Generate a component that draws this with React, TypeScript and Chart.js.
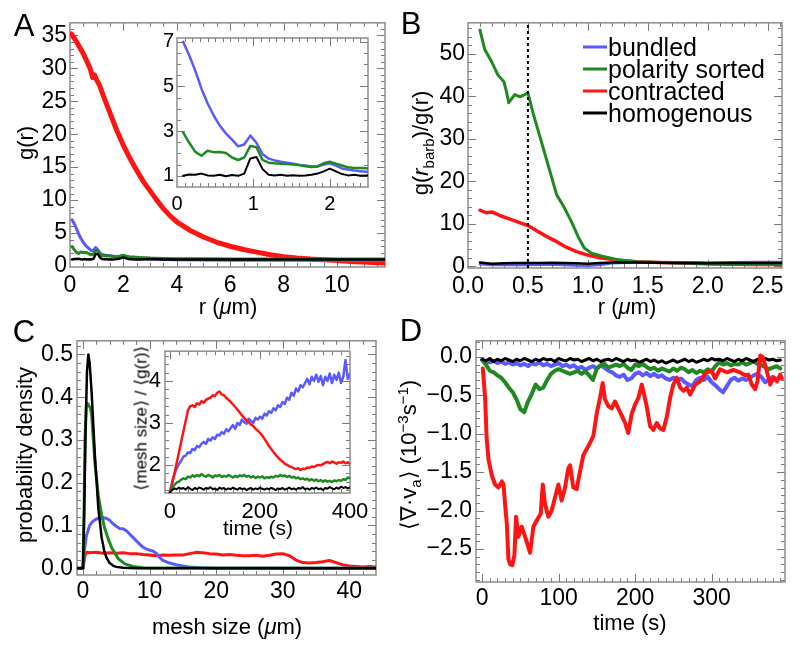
import React, { useEffect, useRef } from "react";
import { Chart, registerables } from "chart.js";
Chart.register(...registerables);

const FONT = "'Liberation Sans', Arial, Helvetica, sans-serif";
const BLUE = "#5a5aff";
const GREEN = "#1f8a1f";
const RED = "#ff1414";
const BLACK = "#000000";

// ---------- Panel A: g(r) ----------
const rA = [0.08, 0.16, 0.24, 0.32, 0.40, 0.48, 0.56, 0.64, 0.72, 0.80, 0.88, 0.96, 1.04, 1.12, 1.20, 1.28, 1.36, 1.44, 1.52, 1.60, 1.68, 1.76, 1.84, 1.92, 2.00, 2.08, 2.16, 2.24, 2.32, 2.40, 2.48, 2.6, 3, 3.5, 4, 5, 6, 7, 8, 9, 10, 11, 11.8];
const gBundled = [7.0, 6.4, 5.7, 4.9, 4.25, 3.7, 3.25, 2.9, 2.62, 2.32, 2.4, 2.8, 2.48, 1.97, 1.77, 1.69, 1.63, 1.59, 1.54, 1.49, 1.46, 1.42, 1.43, 1.51, 1.56, 1.46, 1.33, 1.28, 1.24, 1.21, 1.18, 1.12, 1.05, 1.0, 0.95, 0.9, 0.88, 0.87, 0.86, 0.86, 0.85, 0.85, 0.85];
const gPolarity = [2.95, 2.48, 2.07, 1.9, 2.12, 2.06, 2.07, 2.02, 1.82, 1.71, 1.82, 2.34, 2.28, 1.71, 1.59, 1.56, 1.54, 1.53, 1.51, 1.48, 1.43, 1.4, 1.42, 1.56, 1.63, 1.54, 1.46, 1.38, 1.35, 1.35, 1.34, 1.3, 1.2, 1.15, 1.12, 1.1, 1.08, 1.07, 1.06, 1.05, 1.05, 1.05, 1.05];
const gHomog = [1.0, 1.06, 1.05, 1.1, 1.02, 1.0, 1.05, 0.98, 1.04, 1.0, 1.1, 1.78, 1.84, 1.3, 1.05, 1.02, 1.05, 1.0, 1.03, 1.0, 1.02, 1.05, 1.1, 1.2, 1.32, 1.2, 1.08, 1.02, 1.05, 1.0, 1.02, 1.0, 1.05, 1.0, 1.0, 1.0, 1.0, 1.0, 1.0, 1.0, 1.0, 1.0, 1.0];
const rRed = [0.05, 0.25, 0.5, 0.75, 0.85, 0.92, 1.0, 1.1, 1.25, 1.5, 1.75, 2, 2.25, 2.5, 2.75, 3, 3.25, 3.5, 3.75, 4, 4.5, 5, 5.5, 6, 6.5, 7, 7.5, 8, 8.5, 9, 9.5, 10, 10.5, 11, 11.5, 11.8];
const gContracted = [35.2, 34, 32.2, 30, 28.6, 29, 28.2, 27.5, 25.8, 23.2, 20.6, 18.3, 16.3, 14.5, 12.8, 11.4, 10, 8.7, 7.6, 6.7, 5.4, 4.4, 3.6, 3.0, 2.5, 2.1, 1.7, 1.4, 1.2, 1.05, 0.95, 0.85, 0.7, 0.6, 0.5, 0.45];
const aXTicks = [0, 2, 4, 6, 8, 10];
const aYTicks = [0, 5, 10, 15, 20, 25, 30, 35];
const aInXTicks = [0, 1, 2];
const aInYTicks = [1, 3, 5, 7];

// ---------- Panel B: g(r_barb)/g(r) ----------
const rB = [0.1, 0.14, 0.2, 0.25, 0.3, 0.32, 0.34, 0.39, 0.43, 0.46, 0.5, 0.545, 0.6, 0.67, 0.74, 0.79, 0.86, 0.92, 0.97, 1.03, 1.12, 1.24, 1.4, 1.6, 1.8, 2.0, 2.2, 2.4, 2.62];
const bPolarity = [55.6, 51, 48, 45, 43.4, 41.2, 38.5, 40.4, 39.9, 40.2, 40.8, 35.8, 30.5, 23.7, 16.8, 14.5, 10.7, 6.9, 4.3, 3.1, 2.4, 1.6, 1.1, 0.9, 0.75, 0.6, 0.5, 0.45, 0.4];
const rBRed = [0.1, 0.15, 0.2, 0.27, 0.35, 0.43, 0.5, 0.57, 0.65, 0.74, 0.82, 0.9, 0.99, 1.1, 1.24, 1.41, 1.6, 1.8, 2.0, 2.2, 2.4, 2.62];
const bContracted = [13.2, 12.6, 12.8, 11.9, 11.1, 10.3, 9.6, 8.4, 7.1, 5.8, 4.5, 3.5, 2.7, 2.0, 1.45, 1.1, 0.9, 0.75, 0.6, 0.5, 0.45, 0.45];
const rBFlat = [0.1, 0.2, 0.3, 0.4, 0.5, 0.6, 0.7, 0.8, 0.9, 1.0, 1.1, 1.2, 1.4, 1.6, 1.8, 2.0, 2.2, 2.4, 2.62];
const bBundled = [0.5, 0.3, 0.3, 0.35, 0.3, 0.35, 0.4, 0.3, 0.2, 0.1, 0.3, 0.7, 0.9, 0.9, 0.95, 0.9, 0.95, 1.0, 1.0];
const bHomog = [0.9, 0.6, 0.7, 0.8, 0.75, 0.8, 0.85, 0.8, 0.7, 0.6, 0.75, 0.9, 0.9, 0.85, 0.75, 0.7, 0.75, 0.8, 0.8];
const rBarb = [0.5, 0.5];
const rBarbSpan = [-0.4, 57.3];
const bXTicks = [0, 0.5, 1.0, 1.5, 2.0, 2.5];
const bYTicks = [0, 10, 20, 30, 40, 50];
const legendLabels = ["bundled", "polarity sorted", "contracted", "homogenous"];
const legendColors = [BLUE, GREEN, RED, BLACK];

// ---------- Panel C: mesh size distribution ----------
const mBlack = [-1, 0, 0.2, 0.4, 0.6, 0.8, 1.0, 1.3, 1.6, 1.8, 2.1, 2.3, 2.6, 2.8, 3.2, 3.5, 4, 4.5, 5, 6, 8, 44];
const pBlack = [0, 0, 0.15, 0.33, 0.46, 0.5, 0.48, 0.41, 0.32, 0.26, 0.19, 0.14, 0.1, 0.071, 0.04, 0.026, 0.012, 0.006, 0.003, 0.001, 0, 0];
const mGreen = [-1, 0, 0.15, 0.3, 0.5, 0.7, 0.9, 1.1, 1.3, 1.6, 1.8, 2.1, 2.3, 2.8, 3.25, 3.8, 4.3, 5.3, 6.3, 7.5, 9, 44];
const pGreen = [0, 0, 0.12, 0.3, 0.38, 0.385, 0.38, 0.375, 0.36, 0.29, 0.245, 0.2, 0.17, 0.125, 0.094, 0.068, 0.048, 0.022, 0.01, 0.004, 0.001, 0];
const mBlue = [-1, 0, 0.2, 0.5, 1, 1.5, 2, 2.5, 3, 3.5, 4, 4.5, 5, 5.5, 6, 6.5, 7, 7.5, 8, 8.5, 9, 9.5, 10, 10.5, 11, 11.5, 12, 13, 14, 15, 16, 18, 20, 44];
const pBlue = [0, 0, 0.04, 0.075, 0.1, 0.11, 0.115, 0.118, 0.118, 0.117, 0.112, 0.104, 0.098, 0.093, 0.092, 0.088, 0.08, 0.072, 0.064, 0.056, 0.049, 0.045, 0.042, 0.04, 0.035, 0.025, 0.018, 0.012, 0.008, 0.005, 0.003, 0.001, 0, 0];
const mRed = [-1, 0, 0.3, 0.6, 1, 2, 3, 4, 5, 6, 7, 8, 9, 10, 11, 12, 13, 14, 15, 16, 17, 18, 19, 20, 21, 22, 23, 24, 25, 26, 27, 28, 29, 30, 31, 32, 33, 34, 35, 36, 37, 38, 39, 40, 41, 42, 43, 44];
const pRed = [0, 0, 0.03, 0.037, 0.036, 0.037, 0.035, 0.036, 0.035, 0.036, 0.034, 0.034, 0.032, 0.031, 0.029, 0.031, 0.030, 0.031, 0.031, 0.034, 0.037, 0.036, 0.034, 0.033, 0.031, 0.032, 0.030, 0.029, 0.029, 0.030, 0.028, 0.030, 0.033, 0.034, 0.029, 0.019, 0.013, 0.012, 0.013, 0.015, 0.018, 0.013, 0.008, 0.005, 0.004, 0.003, 0.004, 0.003];
const cXTicks = [0, 10, 20, 30, 40];
const cYTicks = [0, 0.1, 0.2, 0.3, 0.4, 0.5];

// inset C: <mesh size>/<g(r)> vs time
const tC = [0, 5, 10, 15, 20, 25, 30, 35, 40, 45,
  50, 55, 60, 65, 70, 75, 80, 85, 90, 95,
  100, 105, 110, 115, 120, 125, 130, 135, 140, 145,
  150, 155, 160, 165, 170, 175, 180, 185, 190, 195,
  200, 205, 210, 215, 220, 225, 230, 235, 240, 245,
  250, 255, 260, 265, 270, 275, 280, 285, 290, 295,
  300, 305, 310, 315, 320, 325, 330, 335, 340, 345,
  350, 355, 360, 365, 370, 375, 380, 385, 390, 395,
  400];
const iRed = [1.35, 1.55, 1.8, 2.05, 2.3, 2.55, 2.8, 3.05, 3.3, 3.4,
  3.42, 3.38, 3.47, 3.44, 3.52, 3.48, 3.55, 3.58, 3.6, 3.66,
  3.64, 3.72, 3.75, 3.68, 3.66, 3.6, 3.55, 3.5, 3.44, 3.38,
  3.32, 3.25, 3.18, 3.12, 3.06, 3.02, 2.96, 2.93, 2.86, 2.82,
  2.76, 2.7, 2.62, 2.54, 2.45, 2.38, 2.31, 2.24, 2.18, 2.12,
  2.08, 2.03, 2.0, 1.97, 1.95, 1.92, 1.9, 1.92, 1.88, 1.91,
  1.9, 1.94, 1.93, 1.96, 1.95, 1.98, 2.0, 1.99, 2.02, 2.05,
  2.07, 2.04, 2.08, 2.06, 2.03, 2.06, 2.05, 2.08, 2.04, 2.06,
  2.03];
const iBlue = [1.35, 1.6, 1.78, 1.92, 2.02, 2.1, 2.2, 2.22, 2.3, 2.28,
  2.38, 2.35, 2.45, 2.42, 2.5, 2.55, 2.5, 2.62, 2.58, 2.66,
  2.62, 2.72, 2.7, 2.78, 2.74, 2.85, 2.8, 2.88, 2.95, 2.86,
  3.0, 2.95, 3.08, 3.02, 2.98, 3.1, 3.05, 3.0, 3.12, 3.08,
  3.15, 3.1, 3.22, 3.18, 3.28, 3.24, 3.35, 3.3, 3.42, 3.38,
  3.5, 3.45, 3.6, 3.55, 3.72, 3.65, 3.82, 3.75, 3.9, 3.85,
  3.95, 4.05, 3.92, 4.1, 4.0, 4.15, 3.98, 4.12, 3.9, 4.1,
  4.0, 4.18, 3.95, 4.15, 4.02, 4.2, 3.95, 4.1, 4.5, 4.05,
  4.15];
const iGreen = [1.35, 1.45, 1.52, 1.58, 1.6, 1.65, 1.68, 1.66, 1.72, 1.7,
  1.75, 1.72, 1.76, 1.73, 1.78, 1.74, 1.72, 1.76, 1.74, 1.7,
  1.75, 1.73, 1.76, 1.71, 1.74, 1.72, 1.76, 1.73, 1.7, 1.74,
  1.71, 1.75, 1.73, 1.76, 1.72, 1.74, 1.7, 1.73, 1.69, 1.72,
  1.7, 1.73, 1.68, 1.71, 1.69, 1.72, 1.7, 1.74, 1.72, 1.76,
  1.73, 1.75, 1.71, 1.74, 1.7, 1.72, 1.68, 1.7, 1.66, 1.68,
  1.65, 1.67, 1.63, 1.66, 1.62, 1.65, 1.61, 1.64, 1.6, 1.63,
  1.6, 1.62, 1.59, 1.63, 1.61, 1.64, 1.62, 1.66, 1.64, 1.7,
  1.68];
const iBlack = [1.35, 1.4, 1.44, 1.42, 1.46, 1.43, 1.45, 1.41, 1.47, 1.43,
  1.4, 1.45, 1.42, 1.46, 1.44, 1.41, 1.45, 1.43, 1.47, 1.42,
  1.44, 1.4, 1.46, 1.43, 1.45, 1.41, 1.44, 1.42, 1.46, 1.43,
  1.41, 1.45, 1.42, 1.44, 1.4, 1.43, 1.45, 1.41, 1.44, 1.42,
  1.46, 1.43, 1.41, 1.44, 1.42, 1.45, 1.43, 1.4, 1.44, 1.42,
  1.45, 1.41, 1.43, 1.46, 1.42, 1.44, 1.41, 1.45, 1.43, 1.47,
  1.42, 1.44, 1.41, 1.45, 1.43, 1.46, 1.42, 1.44, 1.4, 1.45,
  1.43, 1.47, 1.44, 1.42, 1.46, 1.43, 1.48, 1.45, 1.47, 1.44,
  1.46];
const cInXTicks = [0, 200, 400];
const cInYTicks = [2, 3, 4];

// ---------- Panel D: <div v_a> vs time ----------
const tRedD = [0.9, 3.9, 6, 8.3, 12.6, 17, 21.4, 25.8, 28, 30, 32.3, 34.4, 36.6, 39.6, 42.2, 44.4, 47.5, 51.8, 56.2, 62.7, 67, 71.4, 76.6, 79.3, 82.3, 86.6, 91, 95.3, 99.7, 104, 108.4, 112.7, 115, 119.2, 123.6, 128, 132.3, 138.9, 145.4, 149.8, 154.2, 157.6, 160.6, 165, 169.4, 173.7, 178, 182.4, 187, 191, 195.6, 200, 204.4, 208.7, 211.8, 215.3, 219.6, 224, 228.4, 232.7, 237, 241.5, 245.8, 250, 254.6, 259, 263.3, 267.6, 272, 278.5, 285, 289.4, 293.7, 300, 304.6, 311, 320, 328.5, 337, 344, 348, 352.6, 357, 360, 363.7, 367, 372.3, 376.6, 381, 385.4, 389.7, 392];
const dRed = [-0.15, -0.53, -1.07, -1.33, -1.54, -1.66, -1.7, -1.62, -1.66, -1.92, -2.17, -2.63, -2.7, -2.71, -2.58, -2.08, -2.34, -2.21, -2.34, -2.55, -2.21, -2.13, -2.04, -1.66, -1.92, -2.08, -2.0, -1.83, -1.66, -1.87, -1.7, -1.45, -1.41, -1.7, -1.72, -1.49, -1.28, -1.16, -1.03, -0.74, -0.53, -0.34, -0.55, -0.64, -0.67, -0.58, -0.67, -0.76, -0.86, -0.99, -0.74, -0.62, -0.53, -0.36, -0.49, -0.65, -0.9, -0.95, -0.86, -0.93, -0.95, -0.78, -0.53, -0.36, -0.27, -0.4, -0.44, -0.4, -0.49, -0.36, -0.32, -0.25, -0.2, -0.18, -0.28, -0.16, -0.2, -0.17, -0.2, -0.24, -0.23, -0.36, -0.42, -0.32, 0.02, 0.0, -0.19, -0.36, -0.27, -0.32, -0.23, -0.28];
const tD = [0, 5, 10, 15, 20, 25, 30, 35, 40, 45,
  50, 55, 60, 65, 70, 75, 80, 85, 90, 95,
  100, 105, 110, 115, 120, 125, 130, 135, 140, 145,
  150, 155, 160, 165, 170, 175, 180, 185, 190, 195,
  200, 205, 210, 215, 220, 225, 230, 235, 240, 245,
  250, 255, 260, 265, 270, 275, 280, 285, 290, 295,
  300, 305, 310, 315, 320, 325, 330, 335, 340, 345,
  350, 355, 360, 365, 370, 375, 380, 385, 390];
const dBlue = [-0.04, -0.06, -0.07, -0.05, -0.08, -0.06, -0.09, -0.07, -0.1, -0.08,
  -0.11, -0.09, -0.12, -0.08, -0.1, -0.07, -0.11, -0.09, -0.12, -0.1,
  -0.08, -0.12, -0.1, -0.13, -0.11, -0.15, -0.13, -0.17, -0.14, -0.12,
  -0.15, -0.11, -0.14, -0.18, -0.2, -0.24, -0.26, -0.23, -0.3, -0.28,
  -0.22, -0.2, -0.24, -0.21, -0.25, -0.22, -0.26, -0.24, -0.28, -0.3,
  -0.27, -0.31, -0.28, -0.33, -0.36, -0.38, -0.3, -0.27, -0.3, -0.26,
  -0.33, -0.37, -0.42, -0.46, -0.38, -0.3, -0.27, -0.31, -0.28, -0.3,
  -0.27, -0.24, -0.22, -0.26, -0.33, -0.3, -0.26, -0.29, -0.27];
const dGreen = [-0.04, -0.1, -0.18, -0.2, -0.24, -0.27, -0.33, -0.4, -0.46, -0.55,
  -0.68, -0.72, -0.58, -0.48, -0.36, -0.42, -0.4, -0.3, -0.22, -0.18,
  -0.16, -0.18, -0.2, -0.22, -0.2, -0.18, -0.22, -0.19, -0.24, -0.3,
  -0.15, -0.11, -0.09, -0.14, -0.12, -0.1, -0.12, -0.09, -0.14, -0.17,
  -0.1, -0.12, -0.09, -0.13, -0.16, -0.14, -0.18, -0.15, -0.17, -0.19,
  -0.15, -0.18, -0.14, -0.16, -0.2, -0.17, -0.21, -0.18, -0.2, -0.16,
  -0.19, -0.12, -0.07, -0.1, -0.08, -0.11, -0.09, -0.1, -0.07, -0.1,
  -0.08, -0.06, -0.09, -0.11, -0.13, -0.16, -0.14, -0.12, -0.15];
const dBlack = [-0.03, -0.05, -0.02, -0.06, -0.03, -0.05, -0.02, -0.04, -0.06, -0.03,
  -0.05, -0.02, -0.04, -0.06, -0.03, -0.05, -0.02, -0.04, -0.03, -0.06,
  -0.02, -0.04, -0.05, -0.02, -0.04, -0.03, -0.06, -0.04, -0.02, -0.05,
  -0.03, -0.06, -0.04, -0.03, -0.05, -0.02, -0.04, -0.06, -0.03, -0.05,
  -0.04, -0.07, -0.05, -0.03, -0.06, -0.04, -0.07, -0.05, -0.08, -0.06,
  -0.04, -0.07, -0.05, -0.03, -0.06, -0.04, -0.07, -0.05, -0.03, -0.05,
  -0.02, -0.04, -0.03, -0.05, -0.02, -0.04, -0.06, -0.03, -0.05, -0.02,
  -0.04, -0.06, -0.03, -0.05, -0.02, -0.04, -0.03, -0.05, -0.04];
const dXTicks = [0, 100, 200, 300];
const dYTicks = [-2.5, -2.0, -1.5, -1.0, -0.5, 0.0];

// ---------- helpers ----------
const pts = (xs: number[], ys: number[]) => xs.map((x, i) => ({ x, y: ys[i] }));
const ds = (xs: number[], ys: number[], color: string, width: number, extra: any = {}) => ({
  data: pts(xs, ys), borderColor: color, borderWidth: width, pointRadius: 0, fill: false,
  tension: 0, borderJoinStyle: "round", borderCapStyle: "round", ...extra,
});
const fmtInt = (v: number) => String(v);
const fmt1 = (v: number) => (v < -1e-9 ? "\u2212" + Math.abs(v).toFixed(1) : Math.abs(v).toFixed(1));

const minorList = (min: number, max: number, step: number) => {
  const out: number[] = [];
  for (let k = Math.ceil(min / step - 1e-9); k * step <= max + 1e-9; k++) out.push(+(k * step).toFixed(6));
  return out;
};

const framePlugin = {
  id: "frame",
  beforeDatasetsDraw(chart: any, _a: any, opts: any) {
    const { ctx, chartArea: a } = chart;
    const xs = chart.scales.x, ys = chart.scales.y;
    ctx.save();
    if (opts.white) {
      ctx.fillStyle = "#ffffff";
      ctx.fillRect(a.left, a.top, a.right - a.left, a.bottom - a.top);
    }
    ctx.strokeStyle = "#7a7a7a";
    ctx.lineWidth = 1;
    ctx.beginPath();
    const xmark = (v: number, len: number) => {
      const p = Math.round(xs.getPixelForValue(v)) + 0.5;
      if (p < a.left + 1 || p > a.right - 1) return;
      ctx.moveTo(p, a.bottom); ctx.lineTo(p, a.bottom - len);
      ctx.moveTo(p, a.top); ctx.lineTo(p, a.top + len);
    };
    const ymark = (v: number, len: number) => {
      const p = Math.round(ys.getPixelForValue(v)) + 0.5;
      if (p < a.top + 1 || p > a.bottom - 1) return;
      ctx.moveTo(a.left, p); ctx.lineTo(a.left + len, p);
      ctx.moveTo(a.right, p); ctx.lineTo(a.right - len, p);
    };
    minorList(xs.min, xs.max, opts.xMinor).forEach((v) => xmark(v, 4));
    minorList(ys.min, ys.max, opts.yMinor).forEach((v) => ymark(v, 4));
    xs.ticks.forEach((t: any) => xmark(t.value, 8));
    ys.ticks.forEach((t: any) => ymark(t.value, 8));
    ctx.stroke();
    ctx.strokeStyle = "#8c8c8c";
    ctx.lineWidth = 1.5;
    ctx.strokeRect(a.left, a.top, a.right - a.left, a.bottom - a.top);
    ctx.restore();
  },
};

type Axis = { min: number; max: number; ticks: number[]; minor: number; fmt: (v: number) => string; pad: number };
type Spec = {
  box: [number, number, number, number]; // plot left, top, right, bottom (page px)
  x: Axis; y: Axis; font: number; datasets: any[]; white?: boolean; z: number;
};

const L = 64, T = 10, R = 34, B = 40;

function ChartBox({ spec }: { spec: Spec }) {
  const ref = useRef<HTMLCanvasElement>(null);
  const [l, t, r, b] = spec.box;
  const w = r - l + L + R;
  const h = b - t + T + B;
  useEffect(() => {
    const font = { family: FONT, size: spec.font };
    const chart = new Chart(ref.current as HTMLCanvasElement, {
      type: "line",
      data: { datasets: spec.datasets },
      plugins: [framePlugin as any],
      options: {
        animation: false,
        responsive: false,
        maintainAspectRatio: false,
        devicePixelRatio: 1,
        layout: { padding: { left: 0, top: T, right: R, bottom: 0 } },
        plugins: {
          legend: { display: false },
          tooltip: { enabled: false },
          frame: { white: !!spec.white, xMinor: spec.x.minor, yMinor: spec.y.minor },
        } as any,
        scales: {
          x: {
            type: "linear", min: spec.x.min, max: spec.x.max,
            grid: { display: false, drawTicks: false },
            border: { display: false },
            ticks: { font, color: "#000", padding: spec.x.pad, maxRotation: 0, autoSkip: false, callback: (v: any) => spec.x.fmt(Number(v)) },
            afterBuildTicks: (s: any) => { s.ticks = spec.x.ticks.map((v) => ({ value: v })); },
            afterFit: (s: any) => { s.height = B; },
          },
          y: {
            type: "linear", min: spec.y.min, max: spec.y.max,
            grid: { display: false, drawTicks: false },
            border: { display: false },
            ticks: { font, color: "#000", padding: spec.y.pad, autoSkip: false, callback: (v: any) => spec.y.fmt(Number(v)) },
            afterBuildTicks: (s: any) => { s.ticks = spec.y.ticks.map((v) => ({ value: v })); },
            afterFit: (s: any) => { s.width = L; },
          },
        },
      } as any,
    });
    return () => chart.destroy();
  }, []);
  return (
    <canvas
      ref={ref}
      width={w}
      height={h}
      style={{ position: "absolute", left: l - L, top: t - T, width: w, height: h, zIndex: spec.z }}
    />
  );
}

const Txt = ({ x, y, size = 22, rot = false, children }: any) => (
  <div
    style={{
      position: "absolute", left: x, top: y,
      transform: `translate(-50%, -50%)${rot ? " rotate(-90deg)" : ""}`,
      fontFamily: FONT, fontSize: size, lineHeight: 1, whiteSpace: "nowrap", color: "#000", zIndex: 5,
    }}
  >
    {children}
  </div>
);

const specA: Spec = {
  box: [70, 16, 385, 267], font: 23, z: 1,
  x: { min: 0, max: 11.8, ticks: aXTicks, minor: 0.5, fmt: fmtInt, pad: 5 },
  y: { min: -0.15, max: 36.9, ticks: aYTicks, minor: 1, fmt: fmtInt, pad: 3 },
  datasets: [
    ds(rA, gHomog, BLACK, 2.5),
    ds(rA, gPolarity, GREEN, 3),
    ds(rA, gBundled, BLUE, 3),
    ds(rRed, gContracted, RED, 5),
  ],
};
const specAIn: Spec = {
  box: [177, 33, 368, 187], font: 20, z: 2, white: true,
  x: { min: 0, max: 2.5, ticks: aInXTicks, minor: 0.1, fmt: fmtInt, pad: 5 },
  y: { min: 0.5, max: 7.17, ticks: aInYTicks, minor: 0.5, fmt: fmtInt, pad: 3 },
  datasets: [
    ds(rA, gHomog, BLACK, 2),
    ds(rA, gPolarity, GREEN, 2.5),
    ds(rA, gBundled, BLUE, 2.5),
  ],
};
const specB: Spec = {
  box: [468, 16, 782, 268], font: 23, z: 1,
  x: { min: 0, max: 2.62, ticks: bXTicks, minor: 0.1, fmt: fmt1, pad: 5 },
  y: { min: -0.4, max: 57.3, ticks: bYTicks, minor: 2, fmt: fmtInt, pad: 3 },
  datasets: [
    ds(rBarb, rBarbSpan, BLACK, 2, { borderDash: [3, 3], borderCapStyle: "butt" }),
    ds(rBFlat, bHomog, BLACK, 2.5),
    ds(rB, bPolarity, GREEN, 3),
    ds(rBRed, bContracted, RED, 3.5),
    ds(rBFlat, bBundled, BLUE, 2.5),
  ],
};
const specC: Spec = {
  box: [77, 333, 376, 575], font: 23, z: 1,
  x: { min: -0.9, max: 44, ticks: cXTicks, minor: 2, fmt: fmtInt, pad: 3 },
  y: { min: -0.016, max: 0.532, ticks: cYTicks, minor: 0.02, fmt: fmt1, pad: 4 },
  datasets: [
    ds(mBlack, pBlack, BLACK, 2.5),
    ds(mGreen, pGreen, GREEN, 3),
    ds(mBlue, pBlue, BLUE, 3),
    ds(mRed, pRed, RED, 3),
  ],
};
const specCIn: Spec = {
  box: [165, 344, 350, 493], font: 22, z: 2, white: true,
  x: { min: -11, max: 400, ticks: cInXTicks, minor: 20, fmt: fmtInt, pad: 6 },
  y: { min: 1.33, max: 4.71, ticks: cInYTicks, minor: 0.2, fmt: fmtInt, pad: 4 },
  datasets: [
    ds(tC, iBlack, BLACK, 2),
    ds(tC, iGreen, GREEN, 2.5),
    ds(tC, iRed, RED, 2.5),
    ds(tC, iBlue, BLUE, 2.5),
  ],
};
const specD: Spec = {
  box: [476, 333, 785, 582], font: 23, z: 1,
  x: { min: -8, max: 396, ticks: dXTicks, minor: 10, fmt: fmtInt, pad: 3 },
  y: { min: -2.93, max: 0.21, ticks: dYTicks, minor: 0.1, fmt: fmt1, pad: 4 },
  datasets: [
    ds(tRedD, dRed, RED, 4),
    ds(tD, dBlack, BLACK, 3),
    ds(tD, dGreen, GREEN, 4),
    ds(tD, dBlue, BLUE, 4),
  ],
};

const legendY = [47, 69, 91, 113];

export default function App() {
  return (
    <div style={{ position: "absolute", left: 0, top: 0, width: 800, height: 652, background: "#fff", overflow: "hidden" }}>
      <ChartBox spec={specA} />
      <ChartBox spec={specAIn} />
      <ChartBox spec={specB} />
      <ChartBox spec={specC} />
      <ChartBox spec={specCIn} />
      <ChartBox spec={specD} />

      <Txt x={24} y={25} size={31}>A</Txt>
      <Txt x={411} y={23} size={31}>B</Txt>
      <Txt x={24} y={331} size={31}>C</Txt>
      <Txt x={411} y={330} size={31}>D</Txt>

      <Txt x={26} y={143} rot>g(r)</Txt>
      <Txt x={228} y={307}>r (<i>μ</i>m)</Txt>
      <Txt x={423} y={143} rot>g(<i>r</i><sub style={{ fontSize: 15 }}>barb</sub>)/g(r)</Txt>
      <Txt x={627} y={307}>r (<i>μ</i>m)</Txt>

      <Txt x={25} y={455} rot>probability density</Txt>
      <Txt x={227} y={627}>mesh size (<i>μ</i>m)</Txt>
      <Txt x={141} y={418} size={17} rot>⟨mesh size⟩ / ⟨g(r)⟩</Txt>
      <Txt x={258} y={527} size={21}>time (s)</Txt>

      <Txt x={409} y={455} rot>
        ⟨∇·v<sub style={{ fontSize: 15 }}>a</sub>⟩ (10<sup style={{ fontSize: 15 }}>−3</sup>s<sup style={{ fontSize: 15 }}>−1</sup>)
      </Txt>
      <Txt x={630} y={623}>time (s)</Txt>

      {legendLabels.map((lab, i) => (
        <div
          key={lab}
          style={{
            position: "absolute", left: 583, top: legendY[i], transform: "translateY(-50%)",
            display: "flex", alignItems: "center", fontFamily: FONT, fontSize: 25, lineHeight: 1,
            whiteSpace: "nowrap", zIndex: 5,
          }}
        >
          <span style={{ display: "inline-block", width: 24, height: 3, background: legendColors[i], marginRight: 1 }} />
          <span>{lab}</span>
        </div>
      ))}
    </div>
  );
}
